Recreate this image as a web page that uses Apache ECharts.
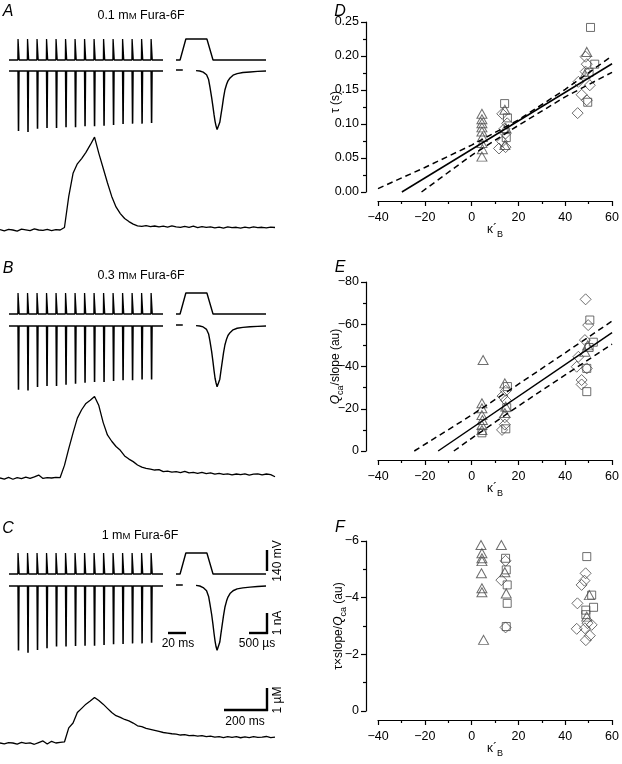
<!DOCTYPE html>
<html><head><meta charset="utf-8">
<script src="https://cdn.jsdelivr.net/npm/echarts@6/dist/echarts.min.js"></script>
<style>html,body{margin:0;padding:0;background:#fff}#c{width:622px;height:764px}</style>
</head><body><div id="c"></div>
<script>
// ================= DATA =================
// stimulus train (ms)
const spikeTimes = [10,20,30,40,50,60,70,80,90,100,110,120,130,140,150];
const vRest = -80, vPeak = 60;                       // mV
// peak inward currents of each spike in the train (nA)
const spikeCurA = [3.16,3.21,3.04,3.00,3.00,2.96,2.96,2.91,2.91,2.88,2.84,2.79,2.77,2.77,2.74];
const spikeCurB = [3.35,3.39,3.21,3.16,3.16,3.09,3.04,2.98,2.95,2.95,2.89,2.86,2.86,2.82,2.82];
const spikeCurC = [3.40,3.51,3.37,3.28,3.19,3.19,3.16,3.14,3.14,3.11,3.07,3.05,3.02,3.02,2.98];
// single AP waveform command (µs, mV)
const stepT = [0,120,290,910,1090,2650];
const stepV = [-80,-80,60,60,-80,-80];
// single Ca current (µs, nA)
const rightCurT = [0,200,230,590,700,800,900,960,1000,1050,1090,1120,1150,1180,1210,1235,1260,1290,1320,1360,1400,1440,1490,1530,1590,1680,1800,1970,2180,2400,2650];
const rightCurA = [0.05,0.05,null,0.02,0,-0.06,-0.2,-0.45,-0.85,-1.4,-1.9,-2.3,-2.65,-2.9,-3.08,-3.15,-3.05,-2.7,-2.35,-1.9,-1.4,-1.0,-0.7,-0.52,-0.37,-0.22,-0.14,-0.08,-0.05,-0.02,0];
const rightCurB = [0.05,0.05,null,0.02,0,-0.05,-0.18,-0.42,-0.8,-1.35,-1.9,-2.35,-2.75,-3.0,-3.2,-3.26,-3.15,-2.8,-2.4,-1.9,-1.4,-1.0,-0.68,-0.5,-0.35,-0.2,-0.12,-0.07,-0.04,-0.02,0];
const rightCurC = [0.05,0.05,null,0.03,0,-0.08,-0.25,-0.55,-0.95,-1.5,-2.05,-2.5,-2.9,-3.2,-3.38,-3.42,-3.3,-2.95,-2.55,-2.05,-1.55,-1.12,-0.78,-0.58,-0.4,-0.25,-0.15,-0.1,-0.06,-0.03,0];
// Ca transients (ms, µM)
const caT = [0,20,40,60,80,100,120,140,160,180,200,220,240,260,280,300,320,340,360,380,400,420,440,460,480,500,520,540,560,580,600,620,640,660,680,700,720,740,760,780,800,820,840,860,880,900,920,940,960,980,1000,1020,1040,1060,1080,1100,1120,1140,1160,1180,1200,1220,1240,1260,1280];
const caA = [0.02,-0.04,0.03,0.00,-0.05,0.04,0.01,-0.03,0.05,0.00,-0.02,0.03,-0.03,0.02,0.00,0.12,1.6,2.7,3.15,3.4,3.7,4.05,4.42,3.65,2.95,2.25,1.6,1.1,0.78,0.55,0.4,0.28,0.2,0.17,0.21,0.16,0.19,0.15,0.18,0.14,0.2,0.15,0.12,0.17,0.13,0.18,0.11,0.16,0.12,0.15,0.1,0.14,0.09,0.15,0.11,0.13,0.09,0.14,0.1,0.15,0.11,0.13,0.1,0.14,0.12];
const caB = [0.0,-0.05,0.03,-0.06,0.02,-0.03,0.04,-0.02,0.05,0.14,-0.02,0.02,0.0,0.03,0.02,0.6,1.4,2.15,2.85,3.25,3.55,3.7,3.88,3.45,2.65,2.05,1.75,1.5,1.32,1.05,0.9,0.78,0.62,0.52,0.46,0.42,0.38,0.4,0.3,0.33,0.28,0.3,0.26,0.32,0.24,0.27,0.22,0.27,0.21,0.24,0.18,0.22,0.17,0.2,0.15,0.19,0.16,0.2,0.14,0.18,0.2,0.15,0.19,0.16,0.06];
const caC = [0.0,-0.04,0.02,0.0,-0.05,0.03,-0.02,0.01,-0.06,0.02,0.1,-0.05,0.08,0.0,0.03,0.05,0.72,0.95,1.45,1.65,1.85,2.0,2.17,2.02,1.85,1.65,1.45,1.3,1.22,1.12,1.05,0.95,0.82,0.78,0.7,0.65,0.6,0.55,0.5,0.47,0.44,0.42,0.38,0.4,0.35,0.36,0.33,0.35,0.3,0.33,0.28,0.3,0.26,0.3,0.27,0.3,0.25,0.29,0.26,0.3,0.27,0.28,0.31,0.26,0.28];

// Panel D: tau (s) vs kappa'B
const dTri = [[4.4,0.115],[4.4,0.107],[4.4,0.101],[4.4,0.095],[4.4,0.089],[4.6,0.081],[4.4,0.072],[4.6,0.063],[4.4,0.052],[14.2,0.121],[14.6,0.094],[14.2,0.069],[49.2,0.206],[48.4,0.173]];
const dSq = [[14.1,0.130],[15.3,0.109],[14.8,0.080],[50.8,0.242],[52.6,0.188],[49.6,0.132],[50.2,0.176]];
const dDia = [[13.1,0.115],[15.2,0.101],[14.0,0.093],[14.5,0.086],[13.1,0.074],[11.7,0.064],[14.5,0.066],[48.7,0.199],[49.2,0.188],[48.7,0.177],[45.6,0.162],[50.5,0.157],[47.0,0.143],[49.2,0.135],[45.3,0.116]];
const dFit = [[-29.8,0],[60,0.1886]];
const dUp = [[-40,0.005],[-20,0.036],[0,0.069],[20,0.106],[40,0.151],[60,0.200]];
const dLo = [[-21.4,0],[0,0.054],[20,0.098],[40,0.140],[60,0.176]];
// Panel E: Qca/slope (au)
const eTri = [[4.9,-43.1],[4.4,-22.6],[4.4,-20.2],[4.4,-17],[4.6,-14.7],[4.4,-12.3],[4.4,-9.9],[14.2,-32],[14.2,-18],[14.6,-21],[48.4,-47],[49.6,-50]];
const eSq = [[4.4,-8.6],[15.3,-30.5],[14.6,-10.5],[15,-20.5],[50.5,-62],[52,-51.5],[49.2,-39.1],[49.2,-28.1],[50.2,-49]];
const eDia = [[13.2,-26],[14.6,-28.5],[14.2,-16],[13,-10],[14.2,-12.5],[14.6,-24],[48.7,-71.8],[49.8,-59.6],[48.4,-52.5],[45.6,-44.6],[44.9,-39.9],[49.2,-39.1],[47,-33.6],[47,-31.5]];
const eFit = [[-14.3,0],[60,-56]];
const eUp = [[-24.5,0],[0,-17],[20,-31.6],[40,-46.5],[60,-61.5]];
const eLo = [[-7.6,0],[0,-6],[20,-21.3],[40,-36],[60,-50.6]];
// Panel F: tau x slope / Qca (au)
const fTri = [[4.0,-5.86],[4.4,-5.57],[4.4,-5.39],[4.4,-5.29],[4.2,-4.86],[4.4,-4.33],[4.4,-4.19],[5.1,-2.51],[12.7,-5.86],[14.2,-4.9],[14.8,-4.15],[50.3,-4.09],[49.2,-3.33]];
const fSq = [[14.5,-5.39],[14.8,-4.98],[15.2,-4.45],[15.2,-3.8],[14.8,-2.98],[49.2,-5.45],[51.3,-4.09],[52.1,-3.66],[48.8,-3.56],[48.8,-3.4]];
const fDia = [[14.5,-5.3],[12.7,-4.62],[14.5,-2.95],[48.7,-4.86],[48.2,-4.6],[47,-4.45],[45.2,-3.8],[44.9,-2.9],[48.4,-2.92],[51.3,-3.04],[50.5,-2.66],[48.8,-2.5],[49.5,-3.1]];
const kappaTicks = {min:-40, max:60, step:20};

// ================= BUILD =================
const FONT = 'Liberation Sans, Arial, sans-serif';
const grids=[], xAxes=[], yAxes=[], series=[], graphics=[];
function addGrid(g, x, y){
  const i = grids.length;
  grids.push(g);
  xAxes.push(Object.assign({gridIndex:i, type:'value', show:false}, x));
  yAxes.push(Object.assign({gridIndex:i, type:'value', show:false}, y));
  return i;
}
function addLine(i, data, extra){
  series.push(Object.assign({type:'line', xAxisIndex:i, yAxisIndex:i, data:data, symbol:'none', clip:false, silent:true,
    lineStyle:{color:'#000', width:1.4}}, extra||{}));
}
const rows = [
  {spikeTop:39, curBase:71, caBase:230, cur:spikeCurA, right:rightCurA, ca:caA},
  {spikeTop:293, curBase:326, caBase:478, cur:spikeCurB, right:rightCurB, ca:caB},
  {spikeTop:553, curBase:586, caBase:743, cur:spikeCurC, right:rightCurC, ca:caC}
];
const PX_NA = 19, PX_UM = 21;
rows.forEach(r=>{
  // voltage train
  let g = addGrid({left:9, top:r.spikeTop, width:154, height:21}, {min:0,max:162}, {min:vRest,max:vPeak});
  const vd = [[0,vRest]];
  spikeTimes.forEach(t=>{ vd.push([t-0.7,vRest],[t-0.5,vPeak],[t+0.5,vPeak],[t+0.7,vRest]); });
  vd.push([162,vRest]);
  addLine(g, vd, {lineStyle:{color:'#000', width:1.3}});
  // current train
  g = addGrid({left:9, top:r.curBase-0.4*PX_NA, width:154, height:4.0*PX_NA}, {min:0,max:162}, {min:-3.6,max:0.4});
  const cd = [[0,0]];
  spikeTimes.forEach((t,k)=>{ cd.push([t-0.45,0],[t,-r.cur[k]],[t+0.45,0]); });
  cd.push([162,0]);
  addLine(g, cd, {lineStyle:{color:'#000', width:1.6}});
  // single AP command
  g = addGrid({left:176, top:r.spikeTop, width:90, height:21}, {min:0,max:2650}, {min:vRest,max:vPeak});
  addLine(g, stepT.map((t,k)=>[t, stepV[k]]));
  // single current
  g = addGrid({left:176, top:r.curBase-0.4*PX_NA, width:90, height:4.0*PX_NA}, {min:0,max:2650}, {min:-3.6,max:0.4});
  addLine(g, rightCurT.map((t,k)=>[t, r.right[k]===null?'-':r.right[k]]), {connectNulls:false});
  // Ca transient
  g = addGrid({left:0, top:r.caBase-5*PX_UM, width:275, height:5.6*PX_UM}, {min:0,max:1280}, {min:-0.6,max:5});
  addLine(g, caT.map((t,k)=>[t, r.ca[k]]), {lineStyle:{color:'#000', width:1.3}});
});

// scatter panels
const minus = s => String(s).replace('-', '\u2212');
const richBase = {
  n:{fontSize:12, fontFamily:FONT, color:'#000', lineHeight:18, verticalAlign:'middle'},
  i:{fontSize:12, fontFamily:FONT, color:'#000', lineHeight:18, fontStyle:'italic', verticalAlign:'middle'},
  s:{fontSize:9, fontFamily:FONT, color:'#000', lineHeight:9, verticalAlign:'bottom'}
};
function scatterPanel(top, height, yCfg, yName, yGap, tri, sq, dia, fits){
  const i = addGrid({left:378, right:8, top:top, height:height},
    {show:true, min:kappaTicks.min, max:kappaTicks.max, interval:kappaTicks.step, offset:9,
     axisLine:{show:true, onZero:false, lineStyle:{color:'#000', width:1.2}},
     axisTick:{show:true, length:5, lineStyle:{color:'#000', width:1.2}},
     minorTick:{show:true, splitNumber:2, length:3, lineStyle:{color:'#000', width:1.2}},
     splitLine:{show:false},
     axisLabel:{color:'#000', fontSize:12.5, fontFamily:FONT, margin:10, formatter:v=>minus(v)},
     name:'{n|κ´}{s|B}', nameLocation:'middle', nameGap:20, nameMoveOverlap:false, nameTextStyle:{rich:richBase}},
    Object.assign({show:true, offset:12,
     axisLine:{show:true, onZero:false, lineStyle:{color:'#000', width:1.2}},
     axisTick:{show:true, length:5, lineStyle:{color:'#000', width:1.2}},
     minorTick:{show:true, splitNumber:2, length:3, lineStyle:{color:'#000', width:1.2}},
     splitLine:{show:false},
     name:yName, nameLocation:'middle', nameRotate:90, nameGap:yGap, nameMoveOverlap:false, nameTextStyle:{rich:richBase}}, yCfg));
  const sty = {color:'rgba(0,0,0,0)', borderColor:'#4a4a4a', borderWidth:1};
  fits.forEach(f=>addLine(i, f.data, {lineStyle:{color:'#000', width:1.5, type:f.dash?[6,4]:'solid'}}));
  series.push({type:'scatter', xAxisIndex:i, yAxisIndex:i, data:tri, symbol:'triangle', symbolSize:[10,9], itemStyle:sty, clip:false});
  series.push({type:'scatter', xAxisIndex:i, yAxisIndex:i, data:sq, symbol:'rect', symbolSize:8, itemStyle:sty, clip:false});
  series.push({type:'scatter', xAxisIndex:i, yAxisIndex:i, data:dia, symbol:'diamond', symbolSize:11, itemStyle:sty, clip:false});
}
scatterPanel(22, 170,
  {min:0, max:0.25, interval:0.05, axisLabel:{color:'#000', fontSize:12.5, fontFamily:FONT, margin:7, formatter:v=>v.toFixed(2)}},
  '{n|τ (s)}', 21, dTri, dSq, dDia,
  [{data:dUp,dash:true},{data:dLo,dash:true},{data:dFit}]);
// shift the short D label up a little (reading direction) as in the reference
yAxes[yAxes.length-1].nameTextStyle.padding = [0,0,0,10];
scatterPanel(282, 169,
  {min:-80, max:0, interval:20, inverse:true, axisLabel:{color:'#000', fontSize:12.5, fontFamily:FONT, margin:7, formatter:v=>minus(v)}},
  '{i|Q}{s|ca}{n|/slope (au)}', 21, eTri, eSq, eDia,
  [{data:eUp,dash:true},{data:eLo,dash:true},{data:eFit}]);
scatterPanel(541, 170,
  {min:-6, max:0, interval:2, inverse:true, axisLabel:{color:'#000', fontSize:12.5, fontFamily:FONT, margin:7, formatter:v=>minus(v)}},
  '{n|τ×slope/}{i|Q}{s|ca}{n| (au)}', 18, fTri, fSq, fDia, []);

// annotations
function txt(x,y,t,o,rot){ graphics.push({type:'text', x:x, y:y, rotation:rot||0, style:Object.assign({text:t, fill:'#000', font:'12px '+FONT, textAlign:'center', textVerticalAlign:'middle'}, o||{})}); }
function ln(x1,y1,x2,y2,w){ graphics.push({type:'line', shape:{x1,y1,x2,y2}, style:{stroke:'#000', lineWidth:w||2.4}}); }
[['A',12],['B',269],['C',529]].forEach(p=>txt(8,p[1],p[0],{font:'italic 16px '+FONT}));
[['D',12],['E',268],['F',528]].forEach(p=>txt(340,p[1],p[0],{font:'italic 16px '+FONT}));
function title(x,y,conc){
  graphics.push({type:'text', x:x, y:y, style:{text:'{a|'+conc+' m}{b|M}{a| Fura-6F}', textAlign:'center', textVerticalAlign:'middle',
    rich:{a:{fontSize:12.5, fontFamily:FONT, fill:'#000'}, b:{fontSize:9.5, fontFamily:FONT, fill:'#000'}}}});
}
title(141,16,'0.1'); title(141,276,'0.3'); title(140,536,'1');
// scale bars
const R = Math.PI/2;
ln(267,550,267,571); txt(278,561,'140 mV',{},R);
ln(267,613,267,634); ln(249,633,268,633); txt(278,623,'1 nA',{},R);
txt(257,644,'500 µs');
ln(168,633,186,633); txt(178,644,'20 ms');
ln(267,688,267,711); ln(224,710,268,710); txt(278,700,'1 µM',{},R);
txt(245,722,'200 ms');

const chart = echarts.init(document.getElementById('c'), null, {renderer:'canvas'});
chart.setOption({animation:false, backgroundColor:'#fff', grid:grids, xAxis:xAxes, yAxis:yAxes, series:series, graphic:graphics});
</script></body></html>
